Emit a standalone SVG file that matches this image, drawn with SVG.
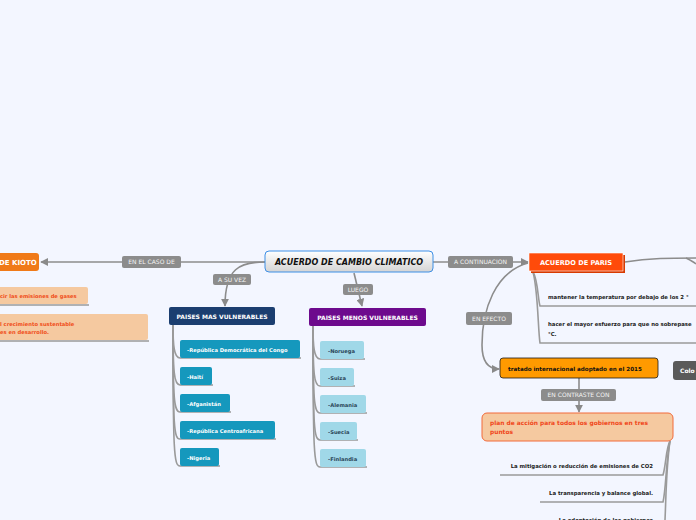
<svg xmlns="http://www.w3.org/2000/svg" width="696" height="520" viewBox="0 0 696 520">
<defs>
<linearGradient id="cg" x1="0" y1="0" x2="0" y2="1"><stop offset="0" stop-color="#ffffff"/><stop offset="1" stop-color="#d4d4d4"/></linearGradient>
<marker id="ah" viewBox="0 0 10 10" refX="9" refY="5" markerWidth="5" markerHeight="5" orient="auto-start-reverse"><path d="M0,0 L10,5 L0,10 z" fill="#8a8a8a"/></marker>
<style>
.t{font-family:"DejaVu Sans",Verdana,sans-serif;font-weight:bold}
.lbl rect{fill:#8c8c8c}
.lbl text{font-family:"DejaVu Sans",Verdana,sans-serif;font-size:6px;fill:#f4f4f4;text-anchor:middle}
.c{fill:none;stroke:#8c8c8c;stroke-width:1.6}
.u{fill:none;stroke:#9a9a9a;stroke-width:1.6}
.teal rect{fill:#1598bd}
.teal text{fill:#ffffff;font-size:5.2px}
.lb rect{fill:#a0d8e8}
.lb text{fill:#2b4658;font-size:5.2px}
.blk{fill:#1a1a1a;font-size:5.35px}
.pl{font-family:"DejaVu Sans",Verdana,sans-serif;font-weight:bold;font-size:5.9px;fill:#f0461a}
</style>
</defs>
<rect width="696" height="520" fill="#f3f6ff"/>

<g id="connectors">
<path class="c" d="M265,262 L41,262" marker-end="url(#ah)"/>
<path class="c" d="M265,262 C240,262 225,268 225,306" marker-end="url(#ah)"/>
<path class="c" d="M354,273 L362,306" marker-end="url(#ah)"/>
<path class="c" d="M433,262 L528,262" marker-end="url(#ah)"/>
<path class="c" d="M528,263 C495,272 482,310 482,345 C482,362 488,369 499,369" marker-end="url(#ah)"/>
<path class="c" d="M579,378 L579,412" marker-end="url(#ah)"/>
<path class="c" d="M625,262 C650,258 670,258 696,258"/>
<path class="c" d="M686,258 C690,260 694,262 696,264"/>
<path class="u" d="M173,325 C173,345 174,358 180,358 L301,358"/>
<path class="u" d="M173,325 C173,372 174,385 180,385 L213,385"/>
<path class="u" d="M173,325 C173,400 174,412 180,412 L231,412"/>
<path class="u" d="M173,325 C173,428 174,439 180,439 L276,439"/>
<path class="u" d="M173,325 C173,454 174,466 180,466 L220,466"/>
<path class="u" d="M313,326 C313,346 314,359 320,359 L365,359"/>
<path class="u" d="M313,326 C313,374 314,386 320,386 L355,386"/>
<path class="u" d="M313,326 C313,400 314,413 320,413 L367,413"/>
<path class="u" d="M313,326 C313,428 314,440 320,440 L358,440"/>
<path class="u" d="M313,326 C313,455 314,467 320,467 L367,467"/>
<path class="u" d="M533,272 C538,280 538,300 540,306 L696,306"/>
<path class="u" d="M533,272 C538,290 538,330 540,343 L696,343"/>
<path class="u" d="M670,441 C666,448 666,465 663,475 L500,475"/>
<path class="u" d="M670,441 C666,460 666,490 663,502 L540,502"/>
<path class="u" d="M670,441 C666,470 666,500 665,520"/>
<path class="u" d="M0,305 L89,305"/>
<path class="u" d="M0,341 L149,341"/>
</g>

<g id="central">
<rect x="265" y="251" width="168" height="21" rx="4" fill="url(#cg)" stroke="#3d8fe6" stroke-width="1"/>
<text class="t" x="349" y="265" font-size="8" font-style="italic" text-anchor="middle" fill="#111">ACUERDO DE CAMBIO CLIMATICO</text>
</g>

<g class="lbl" id="lbl-caso"><rect x="122" y="256" width="59" height="12" rx="2"/><text x="151.5" y="264.3">EN EL CASO DE</text></g>
<g class="lbl" id="lbl-suvez"><rect x="213" y="274" width="38" height="11" rx="2"/><text x="232" y="281.8">A SU VEZ</text></g>
<g class="lbl" id="lbl-luego"><rect x="343" y="284" width="30" height="11" rx="2"/><text x="358" y="291.8">LUEGO</text></g>
<g class="lbl" id="lbl-cont"><rect x="448" y="256" width="65" height="12" rx="2"/><text x="480.5" y="264.3">A CONTINUACION</text></g>
<g class="lbl" id="lbl-efecto"><rect x="466" y="312" width="46" height="13" rx="2"/><text x="489" y="320.8">EN EFECTO</text></g>
<g class="lbl" id="lbl-contraste"><rect x="541" y="389" width="75" height="12" rx="2"/><text x="578.5" y="397.3">EN CONTRASTE CON</text></g>

<g id="kioto">
<rect x="-10" y="253" width="49" height="18" rx="3" fill="#f07a18"/>
<text class="t" x="-1" y="265" font-size="7" fill="#fff">DE KIOTO</text>
</g>
<g id="kioto-1">
<rect x="-10" y="287" width="98" height="17" rx="2" fill="#f5c9a0"/>
<text class="t" x="0" y="298" font-size="5.2" fill="#f04e1a">cir las emisiones de gases</text>
</g>
<g id="kioto-2">
<rect x="-10" y="314" width="158" height="26" rx="2" fill="#f5c9a0"/>
<text class="t" x="0" y="326" font-size="5.2" fill="#f04e1a">l crecimiento sustentable</text>
<text class="t" x="0" y="334" font-size="5.2" fill="#f04e1a">es en desarrollo.</text>
</g>

<g id="mas">
<rect x="169" y="307" width="106" height="18" rx="2" fill="#1b3e70"/>
<text class="t" x="222" y="318.5" font-size="6" fill="#fff" text-anchor="middle">PAISES MAS VULNERABLES</text>
</g>
<g id="mas-1" class="teal"><rect x="180" y="340" width="120" height="18" rx="2"/><text class="t" x="187" y="351.5">-República Democrática del Congo</text></g>
<g id="mas-2" class="teal"><rect x="180" y="367" width="32" height="18" rx="2"/><text class="t" x="187" y="378.5">-Haití</text></g>
<g id="mas-3" class="teal"><rect x="180" y="394" width="50" height="18" rx="2"/><text class="t" x="187" y="405.5">-Afganistán</text></g>
<g id="mas-4" class="teal"><rect x="180" y="421" width="95" height="18" rx="2"/><text class="t" x="187" y="432.5">-República Centroafricana</text></g>
<g id="mas-5" class="teal"><rect x="180" y="448" width="39" height="18" rx="2"/><text class="t" x="187" y="459.5">-Nigeria</text></g>

<g id="menos">
<rect x="309" y="308" width="117" height="18" rx="2" fill="#6d0a8d"/>
<text class="t" x="367.5" y="319.5" font-size="6" fill="#fff" text-anchor="middle">PAISES MENOS VULNERABLES</text>
</g>
<g id="menos-1" class="lb"><rect x="320" y="341" width="44" height="18" rx="2"/><text class="t" x="328" y="352.5">-Noruega</text></g>
<g id="menos-2" class="lb"><rect x="320" y="368" width="34" height="18" rx="2"/><text class="t" x="328" y="379.5">-Suiza</text></g>
<g id="menos-3" class="lb"><rect x="320" y="395" width="46" height="18" rx="2"/><text class="t" x="328" y="406.5">-Alemania</text></g>
<g id="menos-4" class="lb"><rect x="320" y="422" width="37" height="18" rx="2"/><text class="t" x="328" y="433.5">-Suecia</text></g>
<g id="menos-5" class="lb"><rect x="320" y="449" width="46" height="18" rx="2"/><text class="t" x="328" y="460.5">-Finlandia</text></g>

<g id="paris">
<rect x="531" y="255" width="94" height="18" fill="#d83a00"/>
<rect x="529" y="253" width="94" height="18" fill="#ff4b0a" stroke="#fff" stroke-width="0.6"/>
<text class="t" x="576" y="264.8" font-size="6.6" fill="#fff" text-anchor="middle">ACUERDO DE PARIS</text>
</g>
<g id="paris-1"><text class="t blk" x="548" y="299">mantener la temperatura por debajo de los 2 °</text></g>
<g id="paris-2"><text class="t blk" x="548" y="326">hacer el mayor esfuerzo para que no sobrepase</text><text class="t blk" x="548" y="336">°C.</text></g>

<g id="tratado">
<rect x="500" y="358" width="158" height="20" rx="3" fill="#ff9a00" stroke="#1a1a1a" stroke-width="0.8"/>
<text class="t" x="508" y="370.5" font-size="5.6" fill="#111">tratado internacional adoptado en el 2015</text>
</g>

<g id="colo">
<rect x="673" y="361" width="40" height="19" rx="3" fill="#5a5a5a"/>
<text class="t" x="680" y="373" font-size="6" fill="#fff">Colo</text>
</g>

<g id="plan">
<rect x="482" y="413" width="191" height="28" rx="5" fill="#f5c9a0" stroke="#f26a3a" stroke-width="1"/>
<text class="pl" x="490" y="425">plan de acción para todos los gobiernos en tres</text>
<text class="pl" x="490" y="434">puntos</text>
</g>
<g id="plan-1"><text class="t blk" x="653" y="468" text-anchor="end">La mitigación o reducción de emisiones de CO2</text></g>
<g id="plan-2"><text class="t blk" x="653" y="495" text-anchor="end">La transparencia y balance global.</text></g>
<g id="plan-3"><text class="t blk" x="653" y="522" text-anchor="end">La adaptación de los gobiernos</text></g>
</svg>
